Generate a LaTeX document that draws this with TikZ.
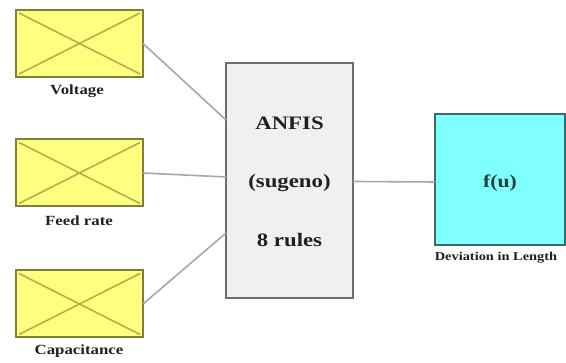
\documentclass[tikz,border=0pt]{standalone}
\usepackage{fontspec}
\setmainfont{Liberation Serif}[FakeStretch=1.2]
\definecolor{yfill}{HTML}{FFFF80}
\definecolor{ydraw}{HTML}{7F7F3A}
\definecolor{ycross}{HTML}{BCAC48}
\definecolor{gfill}{HTML}{F0F0F0}
\definecolor{gdraw}{HTML}{6E6E6E}
\definecolor{cfill}{HTML}{80FFFF}
\definecolor{cdraw}{HTML}{3A6A6A}
\definecolor{conn}{HTML}{A8A8A8}
\definecolor{txt}{HTML}{202020}
\tikzset{
  inbox/.style={draw=ydraw, fill=yfill, line width=2pt, minimum width=127pt, minimum height=67pt, inner sep=0pt, outer sep=0pt},
  crossline/.style={draw=ycross, line width=1.6pt},
  anfisbox/.style={draw=gdraw, fill=gfill, line width=1.6pt, minimum width=127pt, minimum height=235pt, inner sep=0pt, outer sep=0pt},
  outbox/.style={draw=cdraw, fill=cfill, line width=2pt, minimum width=130pt, minimum height=131pt, inner sep=0pt, outer sep=0pt},
  lbl/.style={font=\fontsize{14}{16}\selectfont\bfseries, text=txt, inner sep=0pt},
  big/.style={font=\fontsize{19}{22}\selectfont\bfseries, text=txt, inner sep=0pt},
  conline/.style={draw=conn, line width=1.6pt}
}
\begin{document}
\begin{tikzpicture}[x=1pt,y=1pt]
\useasboundingbox (0,0) rectangle (566,363);
% input boxes
\node[inbox] (v) at (79.5,319.5) {};
\node[inbox] (fr) at (79.5,190) {};
\node[inbox] (c) at (79.5,59) {};
\foreach \n in {v,fr,c}{
  \draw[crossline] ([shift={(3pt,-3pt)}]\n.north west) -- ([shift={(-3pt,3pt)}]\n.south east);
  \draw[crossline] ([shift={(3pt,3pt)}]\n.south west) -- ([shift={(-3pt,-3pt)}]\n.north east);
  \draw[draw=ydraw, line width=2pt] (\n.north west) rectangle (\n.south east);
}
\node[lbl] (vl) at (77,272) {Voltage};
\node[lbl] (frl) at (79,142) {Feed rate};
\node[lbl] (cl) at (79,12) {Capacitance};
% ANFIS
\node[anfisbox] (a) at (289.5,182.5) {};
\node[big] (a1) at (289.5,240) {ANFIS};
\node[big] (a2) at (289.5,180) {(sugeno)};
\node[big] (a3) at (289.5,123) {8 rules};
% output
\node[outbox] (f) at (500,183.5) {};
\node[font=\fontsize{18}{20}\selectfont\bfseries, text=cdraw!60!black, inner sep=0pt] (ft) at (500,180) {f(u)};
\node[lbl, font=\fontsize{12}{14}\selectfont\bfseries] (fl) at (496,105) {Deviation in Length};
% connectors
\draw[conline] (v.east) -- ([yshift=60.5pt]a.west);
\draw[conline] (fr.east) -- ([yshift=3.5pt]a.west);
\draw[conline] (c.east) -- ([yshift=-52.5pt]a.west);
\draw[conline] ([yshift=-1pt]a.east) -- ([yshift=-2.5pt]f.west);
\end{tikzpicture}
\end{document}
